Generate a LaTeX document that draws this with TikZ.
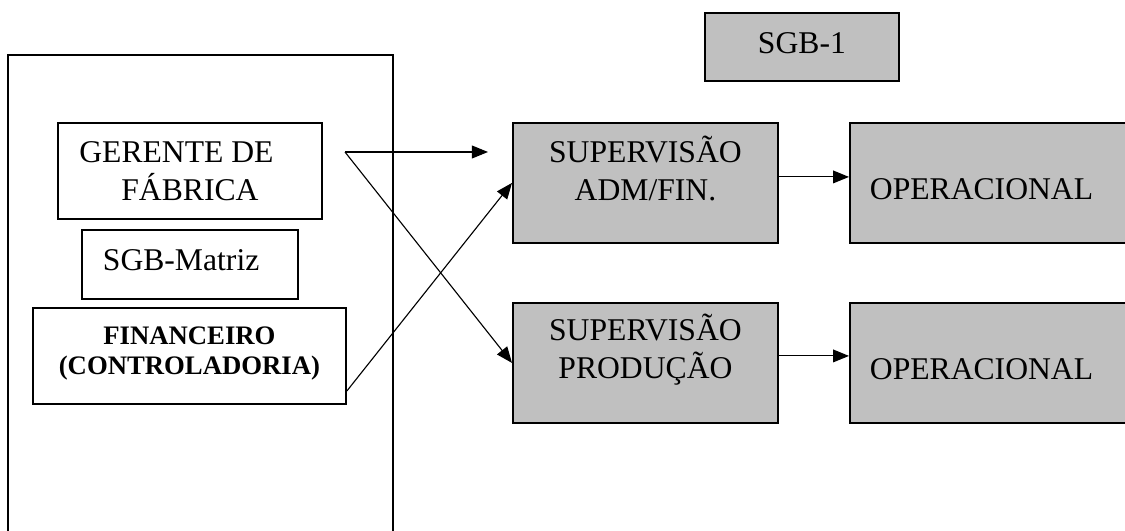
\documentclass[tikz,border=0pt]{standalone}
\usepackage{fontspec}
\setmainfont{Liberation Serif}
\usetikzlibrary{arrows.meta}
\definecolor{boxgray}{RGB}{192,192,192}
\tikzset{
	orgbox/.style={draw, line width=1.3pt, inner ysep=0pt, anchor=north west, align=center},
	graybox/.style={orgbox, fill=boxgray},
	link/.style={->, line width=0.8pt}
}

\begin{document}
\begin{tikzpicture}[x=0.025cm,y=-0.025cm,font=\fontsize{22.5}{27}\selectfont,
	>={Triangle[length=0.4cm,width=0.32cm]}]
	
	\useasboundingbox (0,0) rectangle (1125,531);
	\clip (0,0) rectangle (1125,531);
	
	%------------------------------
	% Matriz (left frame)
	%------------------------------
	\draw[line width=1.3pt] (8,545) -- (8,55) -- (393,55) -- (393,545);
	
	\node[orgbox, minimum width=6.6cm, text height=1.95cm, text depth=0.45cm]
	(ger) at (57,122) {GERENTE DE\hspace*{0.675cm}\\FÁBRICA};
	
	\node[orgbox, align=left, text width=4.35cm, inner xsep=0.525cm,
	text height=1.025cm, text depth=0.7cm]
	(sgbm) at (81,229) {SGB-Matriz};
	
	\node[orgbox, minimum width=7.825cm, text height=1.675cm, text depth=0.725cm,
	font=\fontsize{19}{21.5}\selectfont\bfseries]
	(fin) at (32,307) {FINANCEIRO\\(CONTROLADORIA)};
	
	%------------------------------
	% SGB-1 (right side)
	%------------------------------
	\node[graybox, minimum width=4.85cm, text height=1.025cm, text depth=0.675cm]
	(sgb1) at (704,12) {SGB-1};
	
	\node[graybox, minimum width=6.625cm, text height=1.95cm, text depth=1.05cm]
	(adm) at (512,122) {SUPERVISÃO\\ADM/FIN.};
	\node[graybox, minimum width=6.625cm, text height=1.9cm, text depth=1.1cm]
	(prod) at (512,302) {SUPERVISÃO\\PRODUÇÃO};
	
	\node[graybox, align=left, text width=6.15cm, inner xsep=0.5cm,
	text height=1.925cm, text depth=1.075cm]
	(op1) at (849,122) {OPERACIONAL};
	\node[graybox, align=left, text width=6.15cm, inner xsep=0.5cm,
	text height=1.925cm, text depth=1.075cm]
	(op2) at (849,302) {OPERACIONAL};
	
	%------------------------------
	% Arrows
	%------------------------------
	\coordinate (gout) at (345,152);
	\draw[link] (gout) -- ([xshift=-0.6cm]gout -| adm.west);
	\draw[link] (gout) -- (prod.west);
	\draw[link] ([yshift=-0.875cm]fin.east) -- (adm.west);
	
	\draw[link] ([yshift=0.15cm]adm.east) -- ([yshift=0.15cm]op1.west);
	\draw[link] ([yshift=0.175cm]prod.east) -- ([yshift=0.175cm]op2.west);
	
\end{tikzpicture}
\end{document}
